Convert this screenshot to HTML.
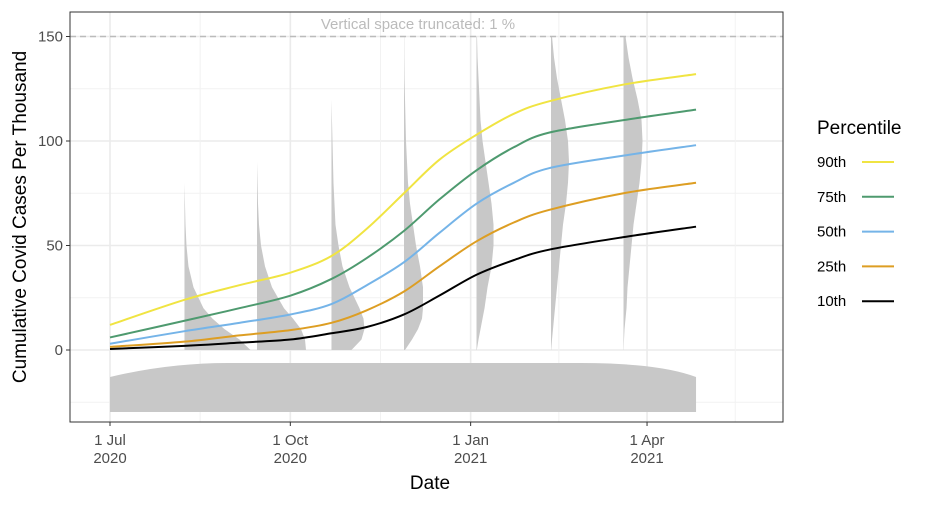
<!DOCTYPE html>
<html><head><meta charset="utf-8"><style>
body{margin:0;background:#fff;font-family:"Liberation Sans",sans-serif}
</style></head><body>
<svg id="chart" width="936" height="504" xmlns="http://www.w3.org/2000/svg" font-family="Liberation Sans, sans-serif"></svg>
<script>
const tickDays=[0,92,184,274];
const tickLabels=[["1 Jul","2020"],["1 Oct","2020"],["1 Jan","2021"],["1 Apr","2021"]];
const yTicks=[0,50,100,150];
const days=[0,38,66,92,113,131,150,168,187,206,224,262,299];
const p90=[12,24,31,37,45,58,75,91,103,113,119,127,132];
const p75=[6,14,20,26,34,44,57,72,86,97,104,110,115];
const p50=[3,9,13,17,22,31,42,56,70,80,87,93,98];
const p25=[1.5,4,7,9.5,13,19,28,40,52,61,67,75,80];
const p10=[0.5,2,3.5,5,8,11,17,26,36,43,48,54,59];
const seriesNames=["90th","75th","50th","25th","10th"];
const seriesColors=["#f0e442","#4e9a6f","#75b4e8","#dd9e23","#000000"];
const violinDays=[38,75,113,150,187,225,262];
const densLevels=[0,5,10,15,20,30,40,50,60,70,80,90,100,110,120,130,140,150];
const violin1=[66,55,40,28,19,9,4,2,1,0.5,0,0,0,0,0,0,0,0];
const violin2=[49,48,44,36,27,15,8,4,2,1,0.5,0,0,0,0,0,0,0];
const violin3=[20,30,33,32,28,18,11,7,4,3,2,1.5,1,0.5,0,0,0,0];
const violin4=[1,8,14,18,19,19,16,12,9,6,4,3,2,1.5,1,0.5,0.3,0.2];
const violin5=[0.3,2,4,6,8,11,15,17,17,15,12,9,6,4,3,2,1,0.5];
const violin6=[0.2,1,2,3,4,6,8,10,12,15,17,18,17,14,10,6,3,1];
const violin7=[0.2,0.5,1,2,3,4,6,8,10,13,16,18,19,18,14,9,5,2];
const violins=[violin1,violin2,violin3,violin4,violin5,violin6,violin7];

const svg=document.getElementById('chart');
const NS="http://www.w3.org/2000/svg";
const L=70,R=783,T=12,B=422;
const x=d=>110+d*1.96;
const y=v=>350-v*2.09;
function mk(tag,attrs,parent){const e=document.createElementNS(NS,tag);for(const k in attrs)e.setAttribute(k,attrs[k]);(parent||svg).appendChild(e);return e;}

const panel=mk('rect',{x:L,y:T,width:R-L,height:B-T,fill:'#fff'});


// grid
[-25,25,75,125].forEach(v=>{const g=mk('line',{x1:L,x2:R,y1:y(v),y2:y(v),stroke:'#f2f2f2','stroke-width':1});});
yTicks.forEach(v=>{const g=mk('line',{x1:L,x2:R,y1:y(v),y2:y(v),stroke:'#ebebeb','stroke-width':1.6});});
[46,138,229,319].forEach(d=>{const g=mk('line',{x1:x(d),x2:x(d),y1:T,y2:B,stroke:'#f2f2f2','stroke-width':1});});
tickDays.forEach(d=>{const g=mk('line',{x1:x(d),x2:x(d),y1:T,y2:B,stroke:'#ebebeb','stroke-width':1.6});});

// bottom band
const band=mk('path',{d:`M${x(0)},412 L${x(0)},377 Q${x(30)},363 ${x(60)},363 L${x(240)},363 Q${x(280)},363 ${x(299)},377 L${x(299)},412 Z`,fill:'#c8c8c8'});



// violins
violins.forEach((w,i)=>{
  const x0=x(violinDays[i]);
  let d=`M${x0},${y(densLevels[0])}`;
  densLevels.forEach((v,j)=>{d+=` L${x0+w[j]},${y(v)}`;});
  d+=` L${x0},${y(150)} Z`;
  const p=mk('path',{d,fill:'#c8c8c8'});
  
  
});

// dashed truncation line
const dl=mk('line',{x1:L,x2:R,y1:y(150),y2:y(150),stroke:'#bbbbbb','stroke-width':1.5,'stroke-dasharray':'6,4'});


const tt=mk('text',{x:418,y:29,'text-anchor':'middle','font-size':15,fill:'#bbbbbb'});
tt.textContent='Vertical space truncated: 1 %';



// lines
function smooth(pts){let d=`M${pts[0][0]},${pts[0][1]}`;for(let i=0;i<pts.length-1;i++){const p0=pts[Math.max(0,i-1)],p1=pts[i],p2=pts[i+1],p3=pts[Math.min(pts.length-1,i+2)];const c1=[p1[0]+(p2[0]-p0[0])/6,p1[1]+(p2[1]-p0[1])/6],c2=[p2[0]-(p3[0]-p1[0])/6,p2[1]-(p3[1]-p1[1])/6];d+=` C${c1[0]},${c1[1]} ${c2[0]},${c2[1]} ${p2[0]},${p2[1]}`;}return d;}
[p90,p75,p50,p25,p10].forEach((s,i)=>{
  const pts=days.map((d,j)=>[x(d),y(s[j])]);
  const p=mk('path',{d:smooth(pts),fill:'none',stroke:seriesColors[i],'stroke-width':2});
  
  
});

const border=mk('rect',{x:L,y:T,width:R-L,height:B-T,fill:'none',stroke:'#333','stroke-width':1});



// axes ticks
yTicks.forEach(v=>{
  const t=mk('line',{x1:L-4,x2:L,y1:y(v),y2:y(v),stroke:'#333'});
  
  const l=mk('text',{x:L-7,y:y(v)+5,'text-anchor':'end','font-size':15,fill:'#4d4d4d'});
  l.textContent=v;
});
tickDays.forEach((d,i)=>{
  const t=mk('line',{x1:x(d),x2:x(d),y1:B,y2:B+4,stroke:'#333'});
  
  const l=mk('text',{x:x(d),y:445,'text-anchor':'middle','font-size':15,fill:'#4d4d4d'});
  
  tickLabels[i].forEach((s,k)=>{const ts=mk('tspan',{x:x(d),dy:k?18:0},l);ts.textContent=s;});
});
const xt=mk('text',{x:430,y:489,'text-anchor':'middle','font-size':19,fill:'#000'});
xt.textContent='Date';
const yt=mk('text',{x:0,y:0,'text-anchor':'middle','font-size':19,fill:'#000',transform:'translate(26,217) rotate(-90)'});
yt.textContent='Cumulative Covid Cases Per Thousand';

// legend
const lt=mk('text',{x:817,y:134,'font-size':19,fill:'#000'});
lt.textContent='Percentile';
seriesNames.forEach((n,i)=>{
  const g=mk('g',{});
  
  const yy=162+i*34.8;
  const tx=mk('text',{x:817,y:yy+5,'font-size':15,fill:'#000'},g);tx.textContent=n;
  mk('line',{x1:862,x2:894,y1:yy,y2:yy,stroke:seriesColors[i],'stroke-width':2},g);
});
</script>
</body></html>
